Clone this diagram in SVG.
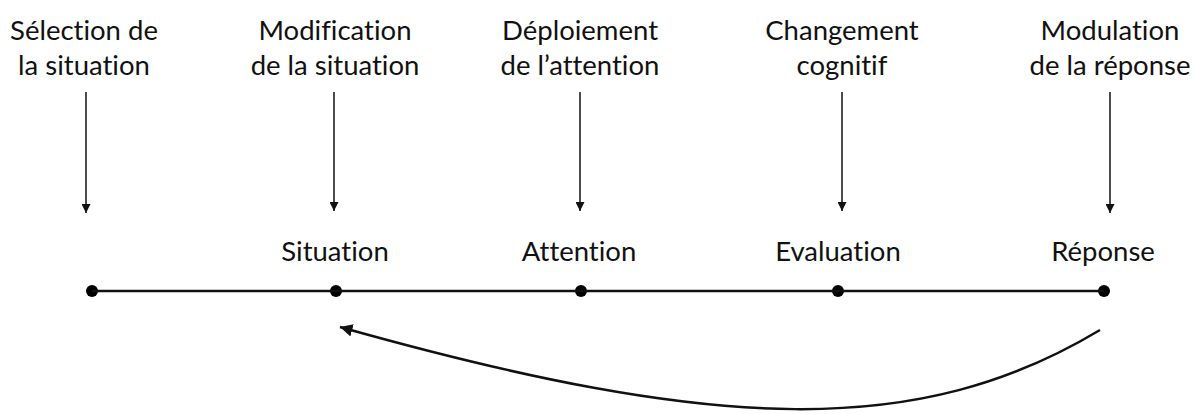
<svg xmlns="http://www.w3.org/2000/svg" width="1201" height="414" viewBox="0 0 1201 414">
<style>
text{font-family:Lato,"Open Sans","Liberation Sans",sans-serif;font-size:27.5px;fill:#111;text-anchor:middle;font-variant-ligatures:none}
.v{stroke:#111;stroke-width:1.5;fill:none}
.tl{stroke:#111;stroke-width:2.5;fill:none}
.dot{fill:#000}
</style>
<defs>
<marker id="ah" viewBox="0 0 10 10" refX="10" refY="5" markerWidth="9" markerHeight="9" markerUnits="userSpaceOnUse" orient="auto"><path d="M0,0 L10,5 L0,10 Z" fill="#111"/></marker>
<marker id="ah2" viewBox="0 0 10 10" refX="10" refY="5" markerWidth="5" markerHeight="5" orient="auto"><path d="M0,0 L10,5 L0,10 Z" fill="#111"/></marker>
</defs>
<g id="label-selection"><text x="84" y="40">Sélection de</text><text x="84" y="75">la situation</text></g>
<g id="label-modification"><text x="335" y="40">Modification</text><text x="335" y="75">de la situation</text></g>
<g id="label-deploiement"><text x="580" y="40">Déploiement</text><text x="580" y="75">de l’attention</text></g>
<g id="label-changement"><text x="842" y="40">Changement</text><text x="842" y="75">cognitif</text></g>
<g id="label-modulation"><text x="1110" y="40">Modulation</text><text x="1110" y="75">de la réponse</text></g>
<g id="node-situation"><text x="335" y="261">Situation</text><circle class="dot" cx="336" cy="291" r="6"/></g>
<g id="node-attention"><text x="579" y="261">Attention</text><circle class="dot" cx="581" cy="291" r="6"/></g>
<g id="node-evaluation"><text x="838" y="261">Evaluation</text><circle class="dot" cx="838" cy="291" r="6"/></g>
<g id="node-reponse"><text x="1103" y="261">Réponse</text><circle class="dot" cx="1104" cy="291" r="6"/></g>
<g id="node-start"><circle class="dot" cx="92" cy="291" r="6"/></g>
<g id="connectors">
<line class="tl" x1="92" y1="291" x2="1104" y2="291"/>
<line class="v" x1="86" y1="92" x2="86" y2="213" marker-end="url(#ah)"/>
<line class="v" x1="334" y1="92" x2="334" y2="211" marker-end="url(#ah)"/>
<line class="v" x1="580" y1="92" x2="580" y2="211" marker-end="url(#ah)"/>
<line class="v" x1="842" y1="92" x2="842" y2="211" marker-end="url(#ah)"/>
<line class="v" x1="1110" y1="92" x2="1110" y2="213" marker-end="url(#ah)"/>
<path class="tl" d="M1100,330 C920,438 720,434 340,327" marker-end="url(#ah2)"/>
</g>
</svg>
